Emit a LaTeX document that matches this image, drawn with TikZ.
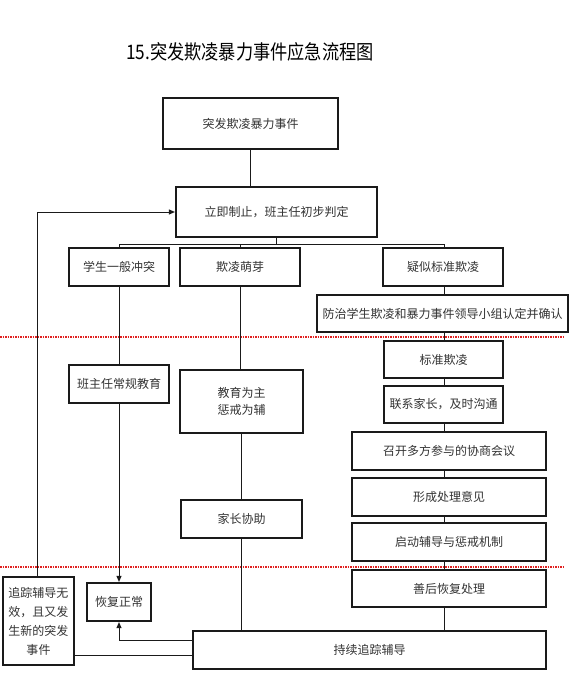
\documentclass[tikz,border=0pt]{standalone}
\usepackage{fontspec}
\setmainfont{Noto Sans CJK SC}
\usetikzlibrary{arrows.meta,calc}
\definecolor{ink}{HTML}{1A1A1A}
\definecolor{txt}{HTML}{333333}
\definecolor{sep}{HTML}{E02020}
\tikzset{
  bx/.style={draw=ink, line width=2.2pt, inner sep=0pt, align=center, text=txt,
    font=\fontsize{12}{17}\selectfont},
  ln/.style={draw=ink, line width=1pt},
  arr/.style={ln, -{Triangle[length=6pt,width=5pt]}},
  sepline/.style={draw=sep, line width=1.1pt, dash pattern=on 1.6pt off 0.9pt}
}
\begin{document}
\begin{tikzpicture}[x=1pt,y=-1pt]
\useasboundingbox (0,0) rectangle (576,680);
\fill[white] (0,0) rectangle (576,680);

\node[text=black, font=\fontsize{20}{24}\selectfont] (title) at (250,52)
  {\scalebox{0.86}[1]{15.突发欺凌暴力事件应急流程图}};

% separators
\draw[sepline] (0,337) -- (564,337);
\draw[sepline] (0,567) -- (564,567);

% nodes
\node[bx, minimum width=175pt, minimum height=51pt] (n1) at (250.5,123.5) {突发欺凌暴力事件};
\node[bx, minimum width=201pt, minimum height=50pt] (n2) at (276.5,212) {立即制止，班主任初步判定};

\node[bx, minimum width=100pt, minimum height=38pt] (a1) at (119,267) {学生一般冲突};
\node[bx, minimum width=120pt, minimum height=38pt] (b1) at (240,267) {欺凌萌芽};
\node[bx, minimum width=120pt, minimum height=38pt] (c1) at (443,267) {疑似标准欺凌};

\node[bx, minimum width=251pt, minimum height=37pt] (c2) at (442.5,313.5) {防治学生欺凌和暴力事件领导小组认定并确认};
\node[bx, minimum width=119pt, minimum height=37pt] (c3) at (443.5,359.5) {标准欺凌};
\node[bx, minimum width=119pt, minimum height=37pt] (c4) at (443.5,404.5) {联系家长，及时沟通};
\node[bx, minimum width=194pt, minimum height=38pt] (c5) at (449,451) {召开多方参与的协商会议};
\node[bx, minimum width=194pt, minimum height=38pt] (c6) at (449,497) {形成处理意见};
\node[bx, minimum width=194pt, minimum height=38pt] (c7) at (449,542) {启动辅导与惩戒机制};
\node[bx, minimum width=194pt, minimum height=37pt] (c8) at (449,588.5) {善后恢复处理};

\node[bx, minimum width=353pt, minimum height=38pt] (d) at (369.5,650) {持续追踪辅导};

\node[bx, minimum width=100pt, minimum height=38pt] (a2) at (119,384) {班主任常规教育};
\node[bx, minimum width=64pt, minimum height=38pt] (a3) at (119,602) {恢复正常};

\node[bx, minimum width=123pt, minimum height=63pt] (b2) at (241.5,401.5) {教育为主\\惩戒为辅};
\node[bx, minimum width=121pt, minimum height=38pt] (b3) at (241.5,519) {家长协助};

\node[bx, minimum width=71pt, minimum height=88pt, font=\fontsize{12}{19}\selectfont] (e) at (38.5,621)
  {追踪辅导无\\效，且又发\\生新的突发\\事件};

% connectors
\coordinate (bus) at (276.5,244);
\coordinate (rx) at (444,0);
\draw[ln] (n1.south) -- (n1.south |- n2.north);
\draw[ln] (n2.south) -- (bus);
\draw[ln] (a1.north) -- (a1.north |- bus) -- (rx |- bus) -- (rx |- c1.north);
\draw[ln] (b1.north) -- (b1.north |- bus);

\draw[ln] (rx |- c1.south) -- (rx |- c2.north);
\draw[ln] (rx |- c2.south) -- (rx |- c3.north);
\draw[ln] (rx |- c3.south) -- (rx |- c4.north);
\draw[ln] (rx |- c4.south) -- (rx |- c5.north);
\draw[ln] (rx |- c5.south) -- (rx |- c6.north);
\draw[ln] (rx |- c6.south) -- (rx |- c7.north);
\draw[ln] (rx |- c7.south) -- (rx |- c8.north);
\draw[ln] (rx |- c8.south) -- (rx |- d.north);

\draw[ln] (a1.south) -- (a2.north);
\draw[arr] (a2.south) -- (a3.north);

\draw[ln] (b1.south) -- (b1.south |- b2.north);
\draw[ln] (b2.south) -- (b3.north);
\draw[ln] (b3.south) -- (b3.south |- d.north);

\coordinate (fb) at (37,0);
\draw[arr] (fb |- e.north) -- (fb |- n2.west) -- (n2.west);

\coordinate (d1) at ([yshift=10pt]d.west);
\coordinate (d2) at ([yshift=-5pt]d.west);
\draw[arr] (d1) -- (a3.south |- d1) -- (a3.south);
\draw[ln] (d2) -- (e.east |- d2);
\end{tikzpicture}
\end{document}
